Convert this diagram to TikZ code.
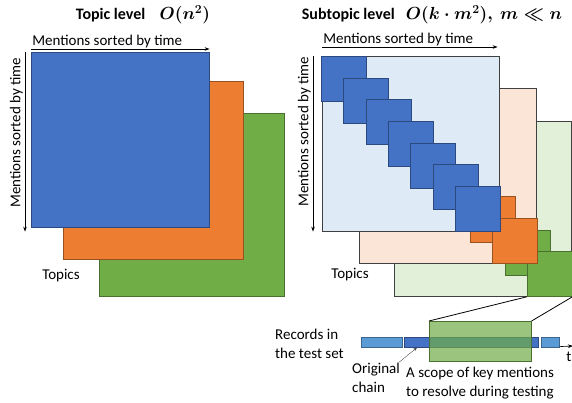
\documentclass[tikz,border=0pt]{standalone}
\usepackage{fix-cm}
\usepackage{amsmath}
\usepackage{bm}
\usepackage{fontspec}
\setmainfont{Carlito}
\usepackage{tikz}
\usetikzlibrary{arrows.meta,positioning}

\definecolor{matBlue}{HTML}{4472C4}
\definecolor{matOrange}{HTML}{ED7D31}
\definecolor{matGreen}{HTML}{70AD47}
\definecolor{paleBlue}{HTML}{DEEBF7}
\definecolor{paleOrange}{HTML}{FBE5D6}
\definecolor{paleGreen}{HTML}{E2F0D9}
\definecolor{recBlue}{HTML}{5B9BD5}

\newcommand{\bigmath}[1]{{\fontsize{17.5}{19}\selectfont$\bm{#1}$}}

\begin{document}
\begin{tikzpicture}
[x=1pt,y=-1pt,
  font=\fontsize{15}{18.5}\selectfont,
  titleDecorate/.style={font=\fontsize{16}{19}\selectfont\bfseries\boldmath},
  textDecorate/.style={inner sep=1pt,align=left,anchor=west},
  boxDecorate/.style={shape=rectangle,anchor=north west,inner sep=0pt,
    fill=#1,draw=#1!65!black,line width=0.6pt},
  pageDecorate/.style={boxDecorate=#1,draw=black!75,
    minimum width=177pt,minimum height=175pt},
  cellDecorate/.style={boxDecorate=#1,minimum width=45pt,minimum height=45pt},
  recDecorate/.style={boxDecorate=#1,minimum height=10pt},
  axisDecorate/.style={-{Stealth[length=5pt,width=3.5pt]},line width=0.6pt},
  pointerDecorate/.style={-{Stealth[length=4pt,width=3pt]},thin,black!70},
  lineDecorate/.style={-,line width=0.8pt}]
\useasboundingbox (0,0) rectangle (572,403);
%% titles
\node (topicTitle) at (143,15) [titleDecorate] {Topic level\hspace{0.9em}\bigmath{O(n^2)}};
\node (subTitle) at (432,15) [titleDecorate] {Subtopic level\hspace{0.7em}\bigmath{O(k\cdot m^2),\ m\ll n}};
%% topic level matrices
\foreach \nodename/\x/\y/\w/\h/\c in {topicGreen/99/113/185/183/matGreen,
    topicOrange/63/81/180/178/matOrange, topicBlue/31/52/178/175/matBlue} {
  \node (\nodename) at (\x,\y) [boxDecorate=\c,minimum width=\w pt,minimum height=\h pt] {};
}
\draw[axisDecorate] ([yshift=3pt]topicBlue.north west) -- ([yshift=3pt]topicBlue.north east)
  node[pos=0,anchor=south west,inner sep=1pt] {Mentions sorted by time};
\draw[axisDecorate] ([xshift=-6pt]topicBlue.north west) -- ([xshift=-6pt,yshift=-4pt]topicBlue.south west)
  node[pos=0.45,rotate=90,anchor=south,inner sep=2pt] {Mentions sorted by time};
\node (topicLabel) at (61,276) {Topics};
%% subtopic level pages with diagonal cells
\foreach \part/\page/\cell/\dx/\dy in {green/paleGreen/matGreen/72/65,
    orange/paleOrange/matOrange/37/32, blue/paleBlue/matBlue/0/0} {
  \node (\part Page) at ({322+\dx},{56+\dy}) [pageDecorate=\page] {};
  \foreach \i in {1,...,7} {
    \node (\part Cell\i) at ({321+\dx+22.3*(\i-1)},{56+\dy+21.7*(\i-1)}) [cellDecorate=\cell] {};
  }
}
\draw[axisDecorate] ([yshift=9pt]bluePage.north west) -- ([yshift=9pt,xshift=-2pt]bluePage.north east)
  node[pos=0,anchor=south west,inner sep=1pt] {Mentions sorted by time};
\draw[axisDecorate] ([xshift=-9pt]bluePage.north west) -- ([xshift=-9pt]bluePage.south west)
  node[pos=0.43,rotate=90,anchor=south,inner sep=2pt] {Mentions sorted by time};
\node (subLabel) at (350,275) {Topics};
%% records in the test set
\coordinate (tEnd) at (573,346);
\node (tLabel) at (569,357) {t};
\foreach \nodename/\x/\w/\c in {recFirst/361/41/recBlue, recChain/404/134/matBlue, recLast/541/18/recBlue} {
  \node (\nodename) at (\x,337) [recDecorate=\c,minimum width=\w pt] {};
}
\draw[axisDecorate] ([yshift=1pt]recLast.south east) -- (tEnd);
\node (scopeBox) at (429,321) [boxDecorate=matGreen,fill opacity=0.7,
  minimum width=102pt,minimum height=40pt] {};
\draw[lineDecorate] (greenCell7.south west) -- (scopeBox.north west);
\draw[lineDecorate] (greenCell7.south east) -- (scopeBox.north east);
\node (recordsText) at (274,344) [textDecorate] {Records in\\the test set};
\node (chainText) at (351,378) [textDecorate] {Original\\chain};
\node (scopeText) at (405,383) [textDecorate] {A scope of key mentions\\to resolve during testing};
\draw[pointerDecorate] ([xshift=-2pt]chainText.north east) -- ([xshift=13pt]recChain.south west);
\end{tikzpicture}
\end{document}
